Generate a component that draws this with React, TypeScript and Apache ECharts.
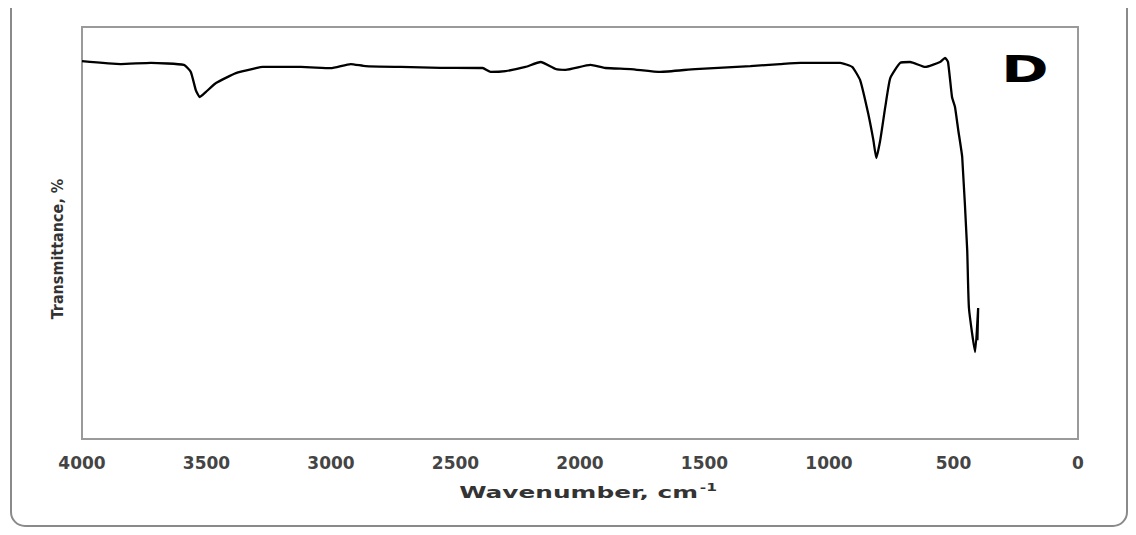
import React, { useEffect, useRef } from "react";
import * as echarts from "echarts";

// Wavenumber (cm^-1) and transmittance (%)
const wavenumbers = [
  4000, 3844, 3723, 3591, 3563, 3543, 3527, 3503, 3462, 3382, 3302, 3274, 3121,
  3001, 2921, 2861, 2720, 2560, 2391, 2359, 2299, 2219, 2158, 2098, 2058, 1958,
  1898, 1797, 1677, 1537, 1316, 1196, 1115, 955, 907, 875, 843, 822, 810, 794,
  774, 754, 714, 674, 614, 554, 534, 522, 506, 494, 481, 465, 445, 438, 413,
  401, 404,
];
const transmittance = [
  91.7, 91.0, 91.3, 90.8, 89.1, 84.7, 83.0, 84.2, 86.4, 88.8, 90.0, 90.3, 90.3,
  90.0, 91.0, 90.5, 90.3, 90.1, 90.05, 89.1, 89.3, 90.3, 91.5, 89.8, 89.6, 90.8,
  90.05, 89.8, 89.1, 89.8, 90.5, 91.0, 91.3, 91.3, 90.3, 87.1, 79.1, 72.6, 68.2,
  72.6, 80.6, 87.6, 91.3, 91.5, 90.3, 91.5, 92.5, 91.5, 83.0, 80.6, 75.0, 68.4,
  45.9, 31.8, 21.1, 31.8, 24.0,
];
const xTicks = [0, 500, 1000, 1500, 2000, 2500, 3000, 3500, 4000];

const xTitle = "Wavenumber, cm";
const xTitleSup = "-1";
const yTitle = "Transmittance, %";
const panelLabel = "D";

export default function App() {
  const ref = useRef<HTMLDivElement>(null);

  useEffect(() => {
    if (!ref.current) return;
    const chart = echarts.init(ref.current, null, { renderer: "svg" });
    const data = wavenumbers.map((w, i) => [w, transmittance[i]]);
    const font = "DejaVu Sans";
    chart.setOption({
      animation: false,
      backgroundColor: "#ffffff",
      grid: {
        left: 82,
        right: 58,
        top: 27,
        bottom: 96,
        show: true,
        borderColor: "#9a9a9a",
        borderWidth: 2,
        backgroundColor: "transparent",
      },
      xAxis: {
        type: "value",
        inverse: true,
        min: xTicks[0],
        max: xTicks[xTicks.length - 1],
        interval: 500,
        axisLine: { show: false },
        axisTick: { show: false },
        splitLine: { show: false },
        axisLabel: {
          fontFamily: font,
          fontWeight: "bold",
          fontSize: 17,
          color: "#444",
          margin: 15,
          formatter: (v: number) => String(v),
        },
      },
      yAxis: {
        type: "value",
        min: 0,
        max: 100,
        axisLine: { show: false },
        axisTick: { show: false },
        splitLine: { show: false },
        axisLabel: { show: false },
        name: yTitle,
        nameLocation: "middle",
        nameRotate: 90,
        nameGap: 17,
        nameTextStyle: {
          fontFamily: "DejaVu Sans Condensed",
          fontWeight: "bold",
          fontSize: 16,
          color: "#333",
          padding: [0, 32, 0, 0],
        },
      },
      graphic: {
        elements: [
          {
            id: "frame",
            type: "rect",
            shape: { x: 11, y: -20, width: 1116, height: 546, r: 14 },
            style: { fill: "none", stroke: "#8a8a8a", lineWidth: 2 },
            silent: true,
            z: 1,
          },
          {
            id: "xtitle",
            type: "text",
            x: 588,
            y: 493,
            scaleX: 1.55,
            style: {
              text: `{a|${xTitle}}{s|${xTitleSup}}`,
              align: "center",
              verticalAlign: "middle",
              rich: {
                a: { fontFamily: font, fontWeight: "bold", fontSize: 16, fill: "#333" },
                s: {
                  fontFamily: font,
                  fontWeight: "bold",
                  fontSize: 10,
                  fill: "#333",
                  verticalAlign: "top",
                  padding: [0, 0, 10, 1],
                },
              },
            },
            z: 5,
          },
          {
            id: "panel",
            type: "text",
            x: 1025,
            y: 69,
            scaleX: 1.5,
            style: {
              text: panelLabel,
              fontFamily: "DejaVu Sans",
              fontWeight: "bold",
              fontSize: 38,
              fill: "#000",
              align: "center",
              verticalAlign: "middle",
            },
            z: 5,
          },
        ],
      },
      series: [
        {
          type: "line",
          data,
          showSymbol: false,
          smooth: 0.15,
          lineStyle: { color: "#000", width: 2.3 },
        },
      ],
    });
    return () => chart.dispose();
  }, []);

  return <div ref={ref} style={{ width: 1136, height: 535, margin: -8 }} />;
}
